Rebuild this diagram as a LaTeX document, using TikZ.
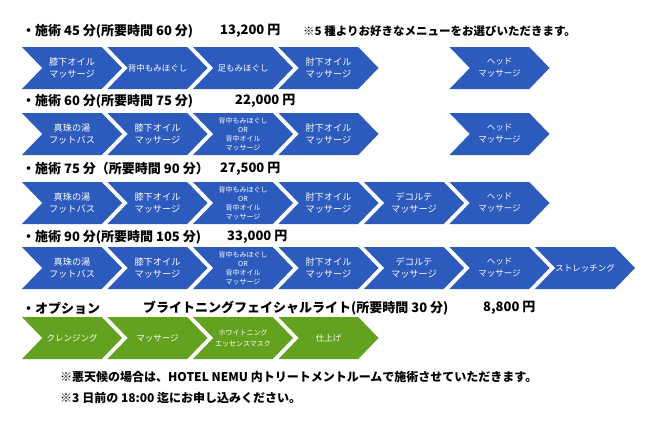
\documentclass[tikz,border=0pt]{standalone}
\usepackage{fontspec}
\newfontfamily\jp{Noto Sans CJK JP}
\usetikzlibrary{shapes.symbols}
\definecolor{blueband}{RGB}{44,90,189}
\definecolor{greenband}{RGB}{99,162,31}
\tikzset{
  chev/.style={shape=signal, signal from=west, signal to=east, signal pointer angle=92,
    fill=blueband, text=white, minimum width=100pt, minimum height=42pt, inner sep=0pt,
    align=center, font=\jp\fontsize{9.2}{12.5}\selectfont},
  chevsmall/.style={chev, font=\jp\fontsize{8.5}{12}\selectfont},
  chevtiny/.style={chev, font=\jp\fontsize{7}{9}\selectfont},
  greenchev/.style={chevsmall, fill=greenband},
  greentiny/.style={chevtiny, fill=greenband, font=\jp\fontsize{7}{11}\selectfont},
  heading/.style={anchor=west, inner sep=0pt, font=\jp\bfseries\fontsize{13}{15}\selectfont},
  notetext/.style={anchor=west, inner sep=0pt, font=\jp\bfseries\fontsize{12}{14}\selectfont},
}
\newcommand{\chevron}[5][chev]{% [style] {name} {column} {row y} {text}
  \pgfmathsetmacro{\chevx}{\firstx + #3*\pitch}
  \node[#1] (#2) at (\chevx,#4) {#5};
}
\def\firstx{72}   % centre of the first chevron
\def\pitch{85.5}  % distance from one chevron to the next

\begin{document}
\begin{tikzpicture}[x=1pt,y=-1pt]
\fill[white] (0,0) rectangle (650,429);
\useasboundingbox (0,0) rectangle (650,429);

% 45 min
\node[heading] (h1) at (22,31) {・施術 45 分(所要時間 60 分)};
\node[heading] (p1) at (220,31) {13,200 円};
\node[heading, font=\jp\bfseries\fontsize{11.5}{14}\selectfont] (n1) at (303,31) {※5 種よりお好きなメニューをお選びいただきます。};
\chevron{r1a}{0}{68}{膝下オイル\\マッサージ}
\chevron[chevsmall]{r1b}{1}{68}{背中もみほぐし}
\chevron[chevsmall]{r1c}{2}{68}{足もみほぐし}
\chevron{r1d}{3}{68}{肘下オイル\\マッサージ}
\chevron[chevsmall]{r1e}{5}{68}{ヘッド\\マッサージ}

% 60 min
\node[heading] (h2) at (22,101) {・施術 60 分(所要時間 75 分)};
\node[heading] (p2) at (235,101) {22,000 円};
\chevron{r2a}{0}{134}{真珠の湯\\フットバス}
\chevron{r2b}{1}{134}{膝下オイル\\マッサージ}
\chevron[chevtiny]{r2c}{2}{134}{背中もみほぐし\\OR\\背中オイル\\マッサージ}
\chevron{r2d}{3}{134}{肘下オイル\\マッサージ}
\chevron[chevsmall]{r2e}{5}{134}{ヘッド\\マッサージ}

% 75 min
\node[heading] (h3) at (22,169) {・施術 75 分（所要時間 90 分）};
\node[heading] (p3) at (220,169) {27,500 円};
\chevron{r3a}{0}{203}{真珠の湯\\フットバス}
\chevron{r3b}{1}{203}{膝下オイル\\マッサージ}
\chevron[chevtiny]{r3c}{2}{203}{背中もみほぐし\\OR\\背中オイル\\マッサージ}
\chevron{r3d}{3}{203}{肘下オイル\\マッサージ}
\chevron{r3e}{4}{203}{デコルテ\\マッサージ}
\chevron[chevsmall]{r3f}{5}{203}{ヘッド\\マッサージ}

% 90 min
\node[heading] (h4) at (22,237) {・施術 90 分(所要時間 105 分)};
\node[heading] (p4) at (227,237) {33,000 円};
\chevron{r4a}{0}{268}{真珠の湯\\フットバス}
\chevron{r4b}{1}{268}{膝下オイル\\マッサージ}
\chevron[chevtiny]{r4c}{2}{268}{背中もみほぐし\\OR\\背中オイル\\マッサージ}
\chevron{r4d}{3}{268}{肘下オイル\\マッサージ}
\chevron{r4e}{4}{268}{デコルテ\\マッサージ}
\chevron[chevsmall]{r4f}{5}{268}{ヘッド\\マッサージ}
\chevron[chevsmall]{r4g}{6}{268}{ストレッチング}

% option
\node[heading] (h5) at (22,308) {・オプション};
\node[heading] (o5) at (143,308) {ブライトニングフェイシャルライト(所要時間 30 分)};
\node[heading] (p5) at (483,308) {8,800 円};
\chevron[greenchev]{g1}{0}{338}{クレンジング}
\chevron[greenchev]{g2}{1}{338}{マッサージ}
\chevron[greentiny]{g3}{2}{338}{ホワイトニング\\エッセンスマスク}
\chevron[greenchev]{g4}{3}{338}{仕上げ}

% notes
\node[notetext] (m1) at (60,377) {※悪天候の場合は、HOTEL NEMU 内トリートメントルームで施術させていただきます。};
\node[notetext] (m2) at (60,398) {※3 日前の 18:00 迄にお申し込みください。};
\end{tikzpicture}
\end{document}
